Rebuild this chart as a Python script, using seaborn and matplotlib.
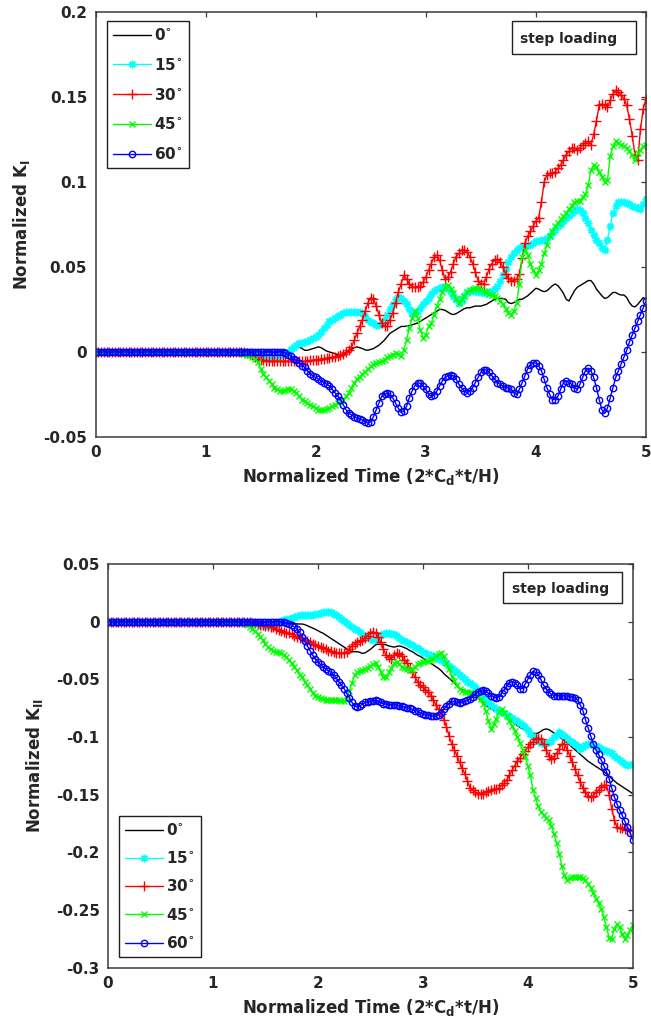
import numpy as np
import matplotlib
matplotlib.use('Agg')
import matplotlib.pyplot as plt
import seaborn as sns
from matplotlib.patches import Rectangle

sns.set_style('white')
plt.rcParams['font.family'] = ['DejaVu Sans']
plt.rcParams['font.weight'] = 'bold'
plt.rcParams['axes.labelweight'] = 'bold'
plt.rcParams['mathtext.fontset'] = 'dejavusans'
plt.rcParams['mathtext.default'] = 'bf'
plt.rcParams['axes.unicode_minus'] = False

# ---------------- data ----------------
t = np.round(np.arange(201) * 0.025, 3)          # normalized time grid 0..5
pad = [0.0] * 50                                  # t = 0 .. 1.225 (all curves at zero)

angle_labels = ['0$^{\\circ}$', '15$^{\\circ}$', '30$^{\\circ}$', '45$^{\\circ}$', '60$^{\\circ}$']
x_tick_labels = ['0', '1', '2', '3', '4', '5']
x_ticks = [0, 1, 2, 3, 4, 5]
k1_tick_vals = [0.2, 0.15, 0.1, 0.05, 0, -0.05]
k1_tick_labels = ['0.2', '0.15', '0.1', '0.05', '0', '-0.05']
k2_tick_vals = [0.05, 0, -0.05, -0.1, -0.15, -0.2, -0.25, -0.3]
k2_tick_labels = ['0.05', '0', '-0.05', '-0.1', '-0.15', '-0.2', '-0.25', '-0.3']
annotation = 'step loading'

# Normalized K_I, values from t = 1.25 to 5.0 (step 0.025)
k1_00 = pad + [
    0, 0, 0, 0, 0, 0, 0, 0,
    0, 0, 0, 0, 0, 0, 0, 0,
    0, 0, 0, 0.0005, 0.001, 0.0015, 0.002, 0.0025,
    0.003, 0.002, 0.001, 0.001, 0.0015, 0.002, 0.0025, 0.003,
    0.0025, 0.0015, 0.0005, 0.0, -0.0005, -0.001, -0.0015, -0.0015,
    -0.0015, -0.001, 0.0005, 0.0015, 0.0025, 0.003, 0.0025, 0.002,
    0.0012, 0.001, 0.0015, 0.002, 0.003, 0.004, 0.0055, 0.007,
    0.009, 0.011, 0.012, 0.013, 0.014, 0.015, 0.015, 0.0152,
    0.0155, 0.016, 0.0165, 0.017, 0.018, 0.019, 0.020, 0.021,
    0.022, 0.023, 0.024, 0.025, 0.025, 0.0245, 0.0235, 0.0225,
    0.022, 0.0225, 0.0235, 0.0245, 0.0255, 0.026, 0.026, 0.0265,
    0.027, 0.027, 0.027, 0.0275, 0.028, 0.029, 0.030, 0.031,
    0.031, 0.0315, 0.0315, 0.031, 0.029, 0.0285, 0.029, 0.030,
    0.031, 0.031, 0.032, 0.033, 0.0345, 0.036, 0.0375, 0.037,
    0.036, 0.0355, 0.036, 0.0375, 0.039, 0.040, 0.039, 0.037,
    0.0345, 0.031, 0.030, 0.033, 0.036, 0.038, 0.039, 0.040,
    0.041, 0.042, 0.042, 0.040, 0.037, 0.035, 0.033, 0.0315,
    0.032, 0.0335, 0.035, 0.035, 0.034, 0.0335, 0.0335, 0.032,
    0.029, 0.027, 0.0265, 0.028, 0.030, 0.032, 0.031]
k1_15 = pad + [
    0, 0, 0, 0, 0, 0, 0, -0.0005,
    -0.001, -0.0015, -0.002, -0.0025, -0.003, -0.003, -0.003, -0.003,
    -0.003, -0.0025, -0.002, -0.001, 0.0, 0.0015, 0.003, 0.004,
    0.005, 0.0055, 0.006, 0.0065, 0.007, 0.008, 0.009, 0.010,
    0.012, 0.014, 0.016, 0.018, 0.019, 0.020, 0.021, 0.022,
    0.023, 0.0235, 0.0237, 0.0237, 0.0237, 0.0237, 0.0235, 0.023,
    0.021, 0.019, 0.0175, 0.017, 0.016, 0.016, 0.017, 0.019,
    0.022, 0.025, 0.0285, 0.031, 0.0325, 0.032, 0.030, 0.0285,
    0.025, 0.023, 0.023, 0.024, 0.026, 0.028, 0.030, 0.032,
    0.034, 0.036, 0.037, 0.0375, 0.038, 0.038, 0.037, 0.035,
    0.033, 0.031, 0.029, 0.030, 0.033, 0.035, 0.036, 0.036,
    0.036, 0.035, 0.035, 0.0345, 0.0345, 0.035, 0.036, 0.037,
    0.039, 0.042, 0.045, 0.049, 0.053, 0.056, 0.058, 0.060,
    0.061, 0.062, 0.0625, 0.063, 0.063, 0.064, 0.065, 0.065,
    0.066, 0.066, 0.067, 0.068, 0.070, 0.072, 0.074, 0.0755,
    0.077, 0.079, 0.080, 0.082, 0.083, 0.084, 0.0835, 0.082,
    0.079, 0.076, 0.072, 0.069, 0.066, 0.064, 0.061, 0.060,
    0.066, 0.074, 0.082, 0.086, 0.088, 0.088, 0.088, 0.0875,
    0.087, 0.086, 0.085, 0.0845, 0.084, 0.087, 0.090]
k1_30 = pad + [
    0, 0, 0, 0, 0, -0.0005, -0.001, -0.002,
    -0.003, -0.004, -0.0045, -0.005, -0.0055, -0.0055, -0.0055, -0.0055,
    -0.0055, -0.0055, -0.0055, -0.0055, -0.0055, -0.0055, -0.0055, -0.0055,
    -0.0055, -0.0055, -0.0055, -0.0055, -0.005, -0.005, -0.0045, -0.0045,
    -0.004, -0.004, -0.0035, -0.0035, -0.003, -0.003, -0.0025, -0.002,
    -0.001, 0.0, 0.001, 0.003, 0.007, 0.011, 0.015, 0.019,
    0.024, 0.029, 0.032, 0.031, 0.027, 0.022, 0.017, 0.015,
    0.015, 0.019, 0.023, 0.029, 0.035, 0.040, 0.045, 0.043,
    0.040, 0.0385, 0.038, 0.038, 0.039, 0.041, 0.044, 0.048,
    0.052, 0.056, 0.057, 0.054, 0.048, 0.043, 0.044, 0.047,
    0.052, 0.056, 0.058, 0.060, 0.060, 0.059, 0.056, 0.052,
    0.047, 0.042, 0.040, 0.040, 0.044, 0.049, 0.052, 0.054,
    0.0545, 0.053, 0.050, 0.046, 0.0435, 0.042, 0.042, 0.043,
    0.046, 0.055, 0.064, 0.068, 0.071, 0.074, 0.077, 0.079,
    0.088, 0.100, 0.104, 0.105, 0.105, 0.106, 0.108, 0.110,
    0.113, 0.116, 0.118, 0.120, 0.120, 0.119, 0.120, 0.122,
    0.123, 0.124, 0.122, 0.128, 0.136, 0.145, 0.146, 0.145,
    0.144, 0.148, 0.152, 0.154, 0.153, 0.151, 0.149, 0.145,
    0.137, 0.127, 0.116, 0.113, 0.131, 0.143, 0.149]
k1_45 = pad + [
    0, 0, 0, -0.0005, -0.001, -0.0015, -0.002, -0.003,
    -0.004, -0.006, -0.010, -0.013, -0.015, -0.017, -0.019, -0.021,
    -0.022, -0.023, -0.023, -0.0225, -0.022, -0.022, -0.023, -0.024,
    -0.026, -0.028, -0.029, -0.030, -0.031, -0.032, -0.033, -0.034,
    -0.034, -0.034, -0.0335, -0.033, -0.032, -0.031, -0.030, -0.029,
    -0.028, -0.026, -0.024, -0.021, -0.018, -0.016, -0.0145, -0.013,
    -0.0115, -0.010, -0.0085, -0.007, -0.0065, -0.006, -0.0055, -0.0045,
    -0.003, -0.0025, -0.0015, -0.0006, -0.001, -0.0025, 0.001, 0.007,
    0.014, 0.020, 0.024, 0.020, 0.013, 0.008, 0.010, 0.015,
    0.017, 0.022, 0.027, 0.031, 0.035, 0.038, 0.0395, 0.037,
    0.0345, 0.031, 0.029, 0.031, 0.033, 0.035, 0.0365, 0.037,
    0.0375, 0.0375, 0.037, 0.036, 0.035, 0.034, 0.0335, 0.033,
    0.032, 0.030, 0.028, 0.025, 0.023, 0.022, 0.024, 0.029,
    0.040, 0.056, 0.060, 0.057, 0.052, 0.048, 0.045, 0.048,
    0.052, 0.058, 0.063, 0.068, 0.071, 0.074, 0.076, 0.078,
    0.080, 0.082, 0.084, 0.086, 0.088, 0.089, 0.089, 0.091,
    0.093, 0.098, 0.107, 0.110, 0.109, 0.106, 0.103, 0.100,
    0.101, 0.115, 0.121, 0.124, 0.123, 0.122, 0.121, 0.120,
    0.118, 0.116, 0.113, 0.117, 0.119, 0.121, 0.122]
k1_60 = pad + [
    0, 0, 0, 0, 0, 0, 0, 0,
    0, 0, 0, 0, 0, 0, 0, 0,
    0, 0, 0, -0.0005, -0.0015, -0.0025, -0.004, -0.005,
    -0.0065, -0.008, -0.009, -0.011, -0.013, -0.014, -0.015, -0.016,
    -0.017, -0.018, -0.019, -0.020, -0.022, -0.024, -0.026, -0.028,
    -0.031, -0.034, -0.036, -0.037, -0.038, -0.039, -0.0395, -0.040,
    -0.041, -0.042, -0.041, -0.038, -0.034, -0.030, -0.026, -0.025,
    -0.024, -0.025, -0.027, -0.030, -0.033, -0.0355, -0.035, -0.032,
    -0.027, -0.023, -0.020, -0.018, -0.0185, -0.020, -0.022, -0.025,
    -0.026, -0.0255, -0.023, -0.020, -0.017, -0.015, -0.014, -0.0135,
    -0.014, -0.016, -0.019, -0.021, -0.023, -0.024, -0.023, -0.021,
    -0.018, -0.015, -0.012, -0.0105, -0.0105, -0.012, -0.014, -0.016,
    -0.018, -0.019, -0.020, -0.021, -0.021, -0.022, -0.024, -0.025,
    -0.022, -0.018, -0.014, -0.010, -0.0075, -0.0065, -0.0065, -0.008,
    -0.011, -0.016, -0.021, -0.025, -0.028, -0.028, -0.026, -0.022,
    -0.018, -0.017, -0.018, -0.019, -0.021, -0.022, -0.019, -0.015,
    -0.011, -0.0095, -0.011, -0.015, -0.021, -0.028, -0.034, -0.036,
    -0.033, -0.027, -0.021, -0.015, -0.011, -0.007, -0.003, 0.001,
    0.006, 0.010, 0.014, 0.018, 0.022, 0.026, 0.030]

# Normalized K_II, values from t = 1.25 to 5.0 (step 0.025)
k2_00 = pad + [
    0, 0, 0, 0, 0, 0, 0, 0,
    0, 0, 0, 0, 0, 0, 0, -0.0002,
    -0.0004, -0.0006, -0.001, -0.0013, -0.0015, -0.0017, -0.0019, -0.002,
    -0.002, -0.0025, -0.0035, -0.0045, -0.0055, -0.0065, -0.0078, -0.009,
    -0.010, -0.0115, -0.013, -0.0145, -0.016, -0.0175, -0.019, -0.0205,
    -0.022, -0.0235, -0.025, -0.026, -0.026, -0.026, -0.0265, -0.0275,
    -0.027, -0.0255, -0.024, -0.022, -0.020, -0.0195, -0.0195, -0.0195,
    -0.020, -0.021, -0.0215, -0.022, -0.0215, -0.021, -0.0215, -0.0225,
    -0.0235, -0.025, -0.026, -0.0275, -0.029, -0.030, -0.0315, -0.033,
    -0.0345, -0.036, -0.0375, -0.039, -0.0405, -0.0425, -0.045, -0.047,
    -0.049, -0.051, -0.053, -0.0555, -0.058, -0.059, -0.060, -0.0605,
    -0.061, -0.0625, -0.064, -0.066, -0.068, -0.070, -0.072, -0.074,
    -0.0755, -0.077, -0.078, -0.079, -0.080, -0.0815, -0.083, -0.0845,
    -0.0865, -0.0885, -0.090, -0.0915, -0.093, -0.094, -0.095, -0.0958,
    -0.0965, -0.097, -0.0965, -0.095, -0.0935, -0.093, -0.0935, -0.095,
    -0.0965, -0.098, -0.100, -0.1015, -0.103, -0.105, -0.107, -0.109,
    -0.111, -0.113, -0.115, -0.117, -0.119, -0.121, -0.1225, -0.124,
    -0.1255, -0.127, -0.1285, -0.130, -0.132, -0.134, -0.136, -0.138,
    -0.140, -0.1415, -0.143, -0.1445, -0.146, -0.1475, -0.149]
k2_15 = pad + [
    0, 0, 0, 0, 0, -0.0005, -0.001, -0.0015,
    -0.0025, -0.0035, -0.004, -0.004, -0.0035, -0.0025, -0.001, 0.0,
    0.001, 0.0015, 0.002, 0.0025, 0.003, 0.004, 0.005, 0.0055,
    0.006, 0.006, 0.006, 0.006, 0.006, 0.0065, 0.007, 0.0075,
    0.008, 0.0085, 0.0085, 0.008, 0.007, 0.0055, 0.004, 0.0025,
    0.0005, -0.0015, -0.003, -0.0045, -0.006, -0.0075, -0.009, -0.0105,
    -0.012, -0.0135, -0.015, -0.016, -0.015, -0.013, -0.0115, -0.0105,
    -0.010, -0.010, -0.0105, -0.011, -0.0125, -0.014, -0.016, -0.017,
    -0.018, -0.019, -0.020, -0.0215, -0.023, -0.0245, -0.026, -0.027,
    -0.028, -0.029, -0.030, -0.031, -0.032, -0.033, -0.0345, -0.036,
    -0.038, -0.040, -0.042, -0.044, -0.046, -0.048, -0.050, -0.052,
    -0.053, -0.055, -0.057, -0.059, -0.061, -0.064, -0.067, -0.070,
    -0.072, -0.074, -0.0755, -0.077, -0.078, -0.0795, -0.081, -0.082,
    -0.0835, -0.085, -0.0865, -0.088, -0.0895, -0.091, -0.094, -0.097,
    -0.099, -0.101, -0.103, -0.105, -0.106, -0.105, -0.104, -0.103,
    -0.100, -0.098, -0.096, -0.097, -0.099, -0.101, -0.103, -0.1045,
    -0.106, -0.108, -0.110, -0.109, -0.107, -0.106, -0.106, -0.107,
    -0.108, -0.109, -0.110, -0.111, -0.112, -0.113, -0.114, -0.116,
    -0.118, -0.120, -0.1215, -0.123, -0.124, -0.124, -0.123]
k2_30 = pad + [
    0, 0, 0, 0, 0, -0.001, -0.0015, -0.002,
    -0.0025, -0.003, -0.0035, -0.004, -0.0045, -0.005, -0.006, -0.007,
    -0.008, -0.009, -0.0095, -0.010, -0.011, -0.012, -0.013, -0.014,
    -0.0145, -0.016, -0.017, -0.018, -0.019, -0.020, -0.021, -0.022,
    -0.023, -0.024, -0.025, -0.0255, -0.026, -0.027, -0.0275, -0.0275,
    -0.027, -0.026, -0.024, -0.021, -0.019, -0.018, -0.017, -0.016,
    -0.014, -0.012, -0.0095, -0.0085, -0.010, -0.013, -0.018, -0.024,
    -0.029, -0.031, -0.032, -0.029, -0.027, -0.028, -0.030, -0.033,
    -0.036, -0.040, -0.044, -0.048, -0.052, -0.055, -0.057, -0.059,
    -0.061, -0.064, -0.068, -0.072, -0.076, -0.080, -0.085, -0.091,
    -0.099, -0.106, -0.111, -0.116, -0.122, -0.127, -0.132, -0.138,
    -0.144, -0.146, -0.148, -0.149, -0.149, -0.149, -0.148, -0.147,
    -0.146, -0.145, -0.145, -0.144, -0.142, -0.140, -0.137, -0.133,
    -0.129, -0.125, -0.121, -0.118, -0.115, -0.112, -0.109, -0.106,
    -0.104, -0.102, -0.101, -0.102, -0.106, -0.111, -0.116, -0.119,
    -0.118, -0.114, -0.110, -0.106, -0.106, -0.111, -0.116, -0.122,
    -0.128, -0.133, -0.139, -0.144, -0.148, -0.151, -0.152, -0.151,
    -0.148, -0.146, -0.143, -0.142, -0.142, -0.150, -0.162, -0.172,
    -0.178, -0.179, -0.179, -0.180, -0.181, -0.181, -0.181]
k2_45 = pad + [
    0, -0.0005, -0.0015, -0.003, -0.0045, -0.006, -0.008, -0.011,
    -0.013, -0.016, -0.019, -0.022, -0.024, -0.025, -0.026, -0.026,
    -0.027, -0.029, -0.031, -0.033, -0.036, -0.039, -0.042, -0.046,
    -0.048, -0.052, -0.055, -0.058, -0.062, -0.064, -0.065, -0.066,
    -0.067, -0.068, -0.068, -0.068, -0.068, -0.068, -0.068, -0.0685,
    -0.069, -0.068, -0.060, -0.053, -0.046, -0.044, -0.043, -0.042,
    -0.041, -0.040, -0.038, -0.037, -0.036, -0.039, -0.044, -0.048,
    -0.048, -0.044, -0.040, -0.036, -0.035, -0.037, -0.039, -0.040,
    -0.041, -0.042, -0.041, -0.039, -0.037, -0.036, -0.035, -0.034,
    -0.034, -0.033, -0.032, -0.030, -0.028, -0.027, -0.030, -0.036,
    -0.041, -0.047, -0.051, -0.055, -0.058, -0.060, -0.061, -0.061,
    -0.062, -0.062, -0.063, -0.065, -0.067, -0.071, -0.077, -0.086,
    -0.093, -0.089, -0.084, -0.078, -0.076, -0.079, -0.082, -0.086,
    -0.090, -0.095, -0.100, -0.105, -0.111, -0.117, -0.125, -0.133,
    -0.146, -0.153, -0.160, -0.165, -0.168, -0.170, -0.172, -0.177,
    -0.184, -0.192, -0.201, -0.212, -0.220, -0.224, -0.222, -0.221,
    -0.221, -0.221, -0.221, -0.222, -0.224, -0.227, -0.231, -0.235,
    -0.240, -0.244, -0.249, -0.256, -0.265, -0.274, -0.275, -0.266,
    -0.262, -0.265, -0.271, -0.275, -0.272, -0.267, -0.263]
k2_60 = pad + [
    0, 0, 0, 0, 0, 0, 0, 0,
    0, 0, 0, 0, 0, 0, 0, 0,
    0, -0.0005, -0.001, -0.002, -0.003, -0.0045, -0.006, -0.009,
    -0.013, -0.017, -0.021, -0.025, -0.029, -0.032, -0.035, -0.037,
    -0.039, -0.041, -0.0425, -0.044, -0.0465, -0.049, -0.052, -0.055,
    -0.058, -0.062, -0.066, -0.070, -0.073, -0.074, -0.073, -0.0715,
    -0.070, -0.0695, -0.069, -0.0685, -0.068, -0.069, -0.070, -0.071,
    -0.0715, -0.072, -0.072, -0.072, -0.072, -0.073, -0.0735, -0.074,
    -0.0745, -0.075, -0.076, -0.077, -0.0775, -0.079, -0.080, -0.0805,
    -0.081, -0.0815, -0.082, -0.082, -0.081, -0.079, -0.076, -0.073,
    -0.071, -0.069, -0.069, -0.070, -0.0705, -0.070, -0.069, -0.068,
    -0.067, -0.065, -0.063, -0.061, -0.060, -0.059, -0.060, -0.062,
    -0.064, -0.065, -0.066, -0.065, -0.062, -0.059, -0.056, -0.053,
    -0.052, -0.053, -0.055, -0.058, -0.058, -0.054, -0.050, -0.046,
    -0.043, -0.044, -0.046, -0.050, -0.055, -0.058, -0.061, -0.063,
    -0.064, -0.064, -0.064, -0.064, -0.064, -0.0645, -0.065, -0.065,
    -0.066, -0.068, -0.072, -0.077, -0.085, -0.092, -0.099, -0.106,
    -0.111, -0.115, -0.120, -0.125, -0.130, -0.136, -0.144, -0.152,
    -0.158, -0.163, -0.168, -0.173, -0.178, -0.183, -0.189]

for s in (k1_00, k1_15, k1_30, k1_45, k1_60, k2_00, k2_15, k2_30, k2_45, k2_60):
    assert len(s) == len(t), len(s)

# ---------------- style ----------------
colors = ['#000000', '#00FFFF', '#FF0000', '#00FF00', '#0000FF']
markers = [None, (8, 2, 0), '+', 'x', 'o']
msizes = [0, 5.5, 6.5, 5.0, 4.6]
spine_col = '#3a3a3a'


def draw(ax, series, ylim, yvals, ylabels, ylabel, leg_kw, box, lspace):
    for vals, lbl, c, m, ms in zip(series, angle_labels, colors, markers, msizes):
        kw = dict(color=c, linewidth=1.0, label=lbl)
        if m is not None:
            kw.update(marker=m, markersize=ms, markeredgecolor=c,
                      markerfacecolor='none', markeredgewidth=1.0)
        sns.lineplot(x=t, y=vals, ax=ax, **kw)
    ax.set_xlim(0, 5)
    ax.set_ylim(*ylim)
    ax.set_xticks(x_ticks)
    ax.set_xticklabels(x_tick_labels)
    ax.set_yticks(yvals)
    ax.set_yticklabels(ylabels)
    ax.tick_params(direction='in', top=True, right=True, length=3.5, width=0.9,
                   labelsize=11, pad=6, color=spine_col)
    for sp in ax.spines.values():
        sp.set_color(spine_col)
        sp.set_linewidth(1.1)
    ax.set_xlabel('Normalized Time (2*C$_{d}$*t/H)', fontsize=12, labelpad=4)
    ax.set_ylabel(ylabel, fontsize=12, labelpad=8)
    leg = ax.legend(fancybox=False, edgecolor='#202020', framealpha=1, fontsize=11,
                    handlelength=2.5, handletextpad=0.2, labelspacing=lspace,
                    borderpad=0.4, borderaxespad=0, numpoints=1, **leg_kw)
    leg.get_frame().set_linewidth(1.0)
    x0, y0, w, h, tx, ty = box
    ax.add_patch(Rectangle((x0, y0), w, h, transform=ax.transAxes, fill=False,
                           edgecolor='#202020', linewidth=1.0, zorder=5))
    ax.text(tx, ty, annotation, transform=ax.transAxes, fontsize=10,
            fontweight='bold', ha='left', va='center', zorder=6)


fig = plt.figure(figsize=(6.51, 10.34), dpi=100)
ax1 = fig.add_axes([0.1467, 0.5774, 0.8456, 0.4110])
ax2 = fig.add_axes([0.1659, 0.0641, 0.8060, 0.3904])

draw(ax1, [k1_00, k1_15, k1_30, k1_45, k1_60], (-0.05, 0.2), k1_tick_vals, k1_tick_labels,
     'Normalized K$_{I}$',
     dict(loc='upper left', bbox_to_anchor=(0.021, 0.979)),
     (0.7566, 0.9012, 0.2252, 0.0776, 0.771, 0.937), 0.9)
draw(ax2, [k2_00, k2_15, k2_30, k2_45, k2_60], (-0.3, 0.05), k2_tick_vals, k2_tick_labels,
     'Normalized K$_{II}$',
     dict(loc='lower left', bbox_to_anchor=(0.021, 0.0265)),
     (0.7534, 0.9026, 0.2268, 0.0768, 0.7706, 0.938), 0.8)

fig.savefig('out.png', dpi=100)
